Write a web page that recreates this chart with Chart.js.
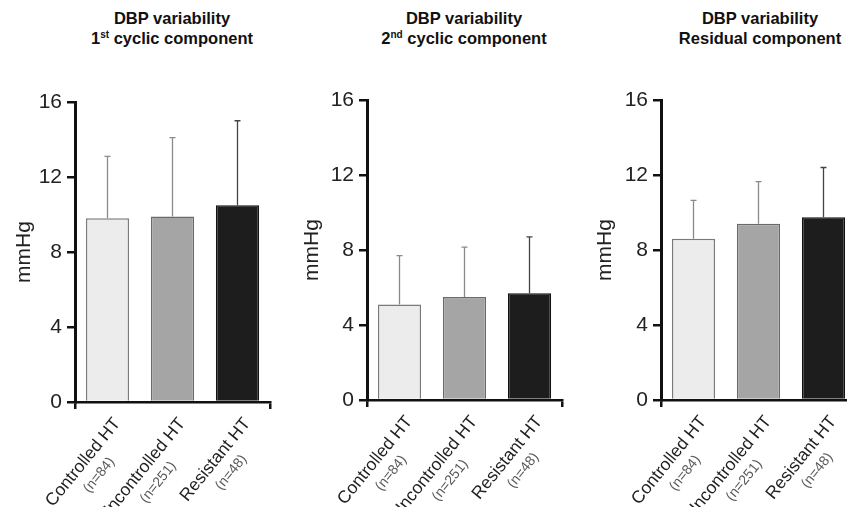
<!DOCTYPE html>
<html>
<head>
<meta charset="utf-8">
<script src="https://cdn.jsdelivr.net/npm/chart.js@4"></script>
<style>
  html, body { margin: 0; padding: 0; background: #fff; }
  body { position: relative; width: 847px; height: 507px; overflow: hidden; font-family: "Liberation Sans", Arial, sans-serif; }
  .panel { position: absolute; top: 0; height: 507px; }
  .title { position: absolute; top: 8px; width: 260px; text-align: center; font-weight: bold; font-size: 16.5px; line-height: 20px; color: #111; }
  .title sup { font-size: 10px; vertical-align: 6px; line-height: 0; }
</style>
</head>
<body>
<div class="title" style="left:42px">DBP variability<br>1<sup>st</sup> cyclic component</div>
<div class="title" style="left:334px">DBP variability<br>2<sup>nd</sup> cyclic component</div>
<div class="title" style="left:630px">DBP variability<br>Residual component</div>
<div class="panel" style="left:0px"><canvas id="c1" width="280" height="507"></canvas></div>
<div class="panel" style="left:292px"><canvas id="c2" width="280" height="507"></canvas></div>
<div class="panel" style="left:586px"><canvas id="c3" width="280" height="507"></canvas></div>
<script>
var categories = ['Controlled HT', 'Uncontrolled HT', 'Resistant HT'];
var groupSizes = ['(n=84)', '(n=251)', '(n=48)'];
var yTicks = [0, 4, 8, 12, 16];

// mean and SD, mmHg
var firstCyclicMean = [9.8, 9.9, 10.5];
var firstCyclicSD = [3.3, 4.2, 4.5];
var secondCyclicMean = [5.1, 5.5, 5.7];
var secondCyclicSD = [2.6, 2.65, 3.0];
var residualMean = [8.6, 9.4, 9.75];
var residualSD = [2.05, 2.25, 2.65];

var barFill = ['#ececec', '#a5a5a5', '#1d1d1d'];
var barEdge = ['#7a7a7a', '#6a6a6a', '#111111'];
var errColor = ['#8a8a8a', '#8a8a8a', '#444444'];

var errorBars = {
  id: 'errorBars',
  afterDatasetsDraw: function (chart, args, opts) {
    var ctx = chart.ctx;
    var y = chart.scales.y;
    var meta = chart.getDatasetMeta(0);
    var means = chart.data.datasets[0].data;
    ctx.save();
    ctx.lineWidth = 1.3;
    meta.data.forEach(function (bar, i) {
      var top = y.getPixelForValue(means[i] + opts.sd[i]);
      ctx.strokeStyle = errColor[i];
      ctx.beginPath();
      ctx.moveTo(bar.x, bar.y);
      ctx.lineTo(bar.x, top);
      ctx.moveTo(bar.x - 3, top);
      ctx.lineTo(bar.x + 3, top);
      ctx.stroke();
    });
    ctx.restore();
  }
};

var groupLabels = {
  id: 'groupLabels',
  afterDraw: function (chart) {
    var ctx = chart.ctx;
    var x = chart.scales.x;
    var base = chart.chartArea.bottom;
    ctx.save();
    categories.forEach(function (name, i) {
      var px = x.getPixelForValue(i);
      ctx.save();
      ctx.translate(px + 3, base + 13);
      ctx.rotate(-51 * Math.PI / 180);
      ctx.textBaseline = 'top';
      ctx.font = '17.5px "Liberation Sans", Arial, sans-serif';
      ctx.fillStyle = '#222';
      ctx.textAlign = 'right';
      var w = ctx.measureText(name).width;
      ctx.fillText(name, 0, 0);
      ctx.font = '14px "Liberation Sans", Arial, sans-serif';
      ctx.fillStyle = '#5a5a5a';
      ctx.textAlign = 'center';
      ctx.fillText(groupSizes[i], -w / 2, 22);
      ctx.restore();
    });
    ctx.restore();
  }
};

function makeChart(id, means, sds, top, bottom, titlePad) {
  return new Chart(document.getElementById(id), {
    type: 'bar',
    data: {
      labels: categories,
      datasets: [{
        data: means,
        backgroundColor: barFill,
        borderColor: barEdge,
        borderWidth: 1.5,
        barPercentage: 0.665,
        categoryPercentage: 1
      }]
    },
    options: {
      responsive: false,
      animation: false,
      events: [],
      layout: { padding: { top: top, right: 10, left: 0, bottom: 0 } },
      plugins: {
        legend: { display: false },
        tooltip: { enabled: false },
        errorBars: { sd: sds }
      },
      scales: {
        x: {
          offset: true,
          afterFit: function (s) { s.height = 507 - bottom; },
          border: { display: true, color: '#111', width: 2.5 },
          grid: {
            drawOnChartArea: false,
            drawTicks: true,
            tickLength: 7,
            lineWidth: 2.5,
            color: function (c) { return (c.index === 0 || c.index === undefined) ? '#111' : 'rgba(0,0,0,0)'; }
          },
          ticks: { display: false }
        },
        y: {
          min: 0,
          max: 16,
          afterFit: function (s) { s.width = 75; },
          afterBuildTicks: function (s) { s.ticks = yTicks.map(function (v) { return { value: v }; }); },
          border: { display: true, color: '#111', width: 3 },
          grid: { drawOnChartArea: false, drawTicks: true, tickLength: 8, lineWidth: 2.5, color: '#111' },
          ticks: { padding: 5, color: '#222', font: { size: 21, family: '"Liberation Sans", Arial, sans-serif' } },
          title: {
            display: true,
            text: 'mmHg',
            color: '#222',
            padding: { top: titlePad },
            font: { size: 21, family: '"Liberation Sans", Arial, sans-serif' }
          }
        }
      }
    },
    plugins: [errorBars, groupLabels]
  });
}

makeChart('c1', firstCyclicMean, firstCyclicSD, 102, 402, 12);
makeChart('c2', secondCyclicMean, secondCyclicSD, 100, 400, 8);
makeChart('c3', residualMean, residualSD, 100, 400, 7);
</script>
</body>
</html>
